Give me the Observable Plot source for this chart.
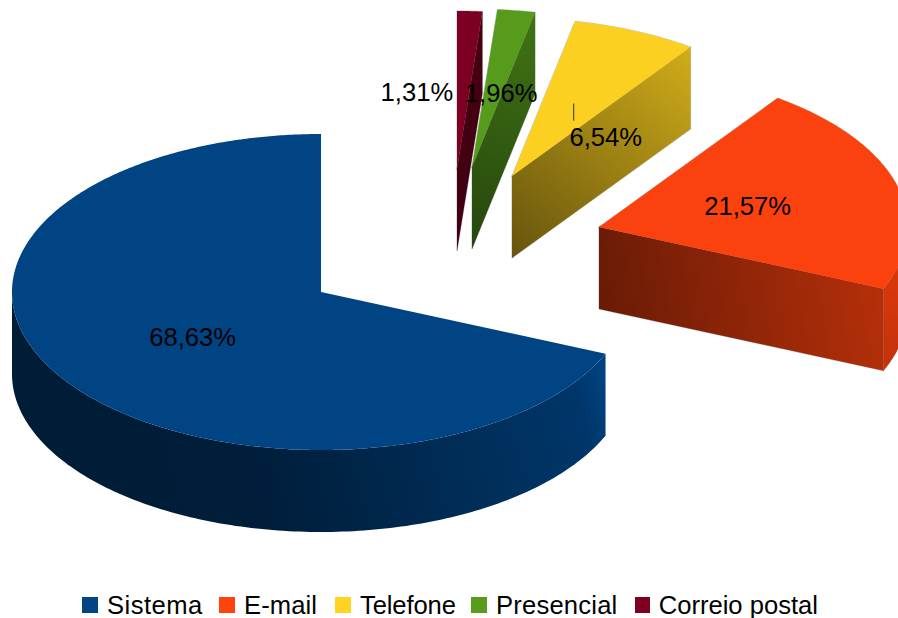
<!DOCTYPE html>
<html>
<head>
<meta charset="utf-8">
<script src="https://cdn.jsdelivr.net/npm/d3@7"></script>
<script src="https://cdn.jsdelivr.net/npm/@observablehq/plot@0.6"></script>
<style>
html,body{margin:0;padding:0;background:#fff;overflow:hidden}
#chart svg{display:block}
#legend{display:flex;align-items:center;height:26px;padding-left:82px;font:25.6px/26px "Liberation Sans",sans-serif;color:#000;white-space:nowrap}
#legend span.i{display:flex;align-items:center;flex:none}
#legend span.s{display:inline-block;width:16px;height:16px;margin-right:9px}
</style>
</head>
<body>
<div id="chart"></div>
<div id="legend"></div>
<script>
// Data
const categories = ["Sistema", "E-mail", "Telefone", "Presencial", "Correio postal"];
const shares = [68.63, 21.57, 6.54, 1.96, 1.31];
const colors = ["#004586", "#ff420e", "#ffd320", "#579d1c", "#7e0021"];

// Pie projection
const W = 898, H = 592;
const rx = 309, ry = 158, depth = 82;
const centers = [[320.5, 291.5], [598.5, 226.5], [511.5, 175.5], [471.5, 166.5], [456.5, 168.5]];
const labelNudge = [[0.5, 2], [0, 1], [32, 34], [7, 5], [-46.5, 2.5]];
const legendPitch = [137, 116, 136, 164, 183];
const legendTrack = [0.45, 0.08, -0.12, 0.2, 0];
const total = d3.sum(shares);
const pt = (c, deg, dz = 0) => {
  const a = deg * Math.PI / 180;
  return [c[0] - Math.sin(a) * rx, c[1] - Math.cos(a) * ry + dz];
};
const shade = (col, f) => {
  const c = d3.rgb(col);
  return d3.rgb(c.r * f, c.g * f, c.b * f).formatHex();
};

// Gradients for the side faces: vector in pixels, then stops as [offset, brightness]
const gradients = [
  {id: "side0", col: 0, v: [150, 500, 606, 385], stops: [[0, .42], [.25, .44], [.6, .62], [.93, .78], [1, .95]]},
  {id: "cut1", col: 1, v: [600, 300, 885, 250], stops: [[0, .41], [1, .72]]},
  {id: "side1", col: 1, v: [885, 370, 898, 290], stops: [[0, .76], [1, .84]]},
  {id: "cut2", col: 2, v: [512, 258, 691, 47], stops: [[0, .40], [1, .82]]},
  {id: "cut3", col: 3, v: [472, 251, 535, 12], stops: [[0, .44], [1, .74]]},
  {id: "cut4", col: 4, v: [457, 251, 482, 12], stops: [[0, .5], [1, .56]]}
];
const defsMark = () => {
  const ns = "http://www.w3.org/2000/svg";
  const defs = document.createElementNS(ns, "defs");
  gradients.forEach(g => {
    const lg = document.createElementNS(ns, "linearGradient");
    lg.setAttribute("id", g.id);
    lg.setAttribute("gradientUnits", "userSpaceOnUse");
    ["x1", "y1", "x2", "y2"].forEach((k, i) => lg.setAttribute(k, g.v[i]));
    g.stops.forEach(([o, f]) => {
      const s = document.createElementNS(ns, "stop");
      s.setAttribute("offset", o);
      s.setAttribute("stop-color", shade(colors[g.col], f));
      lg.append(s);
    });
    defs.append(lg);
  });
  return defs;
};

const polys = [];
const addPoly = (id, points, fill, slice) => points.forEach(([x, y]) => polys.push({id, x, y, fill, slice}));
const labels = [];
let acc = 0;
categories.forEach((name, i) => {
  const a0 = acc / total * 360, a1 = (acc + shares[i]) / total * 360;
  acc += shares[i];
  const c = centers[i], col = colors[i];
  if (i > 0) {
    const e = pt(c, a0);
    addPoly(`cut${i}`, [c, e, [e[0], e[1] + depth], [c[0], c[1] + depth], c], `url(#cut${i})`, i);
  }
  const s0 = Math.max(90, a0), s1 = Math.min(270, a1);
  if (s1 > s0) {
    const upper = [], lower = [];
    for (let d = s0; d < s1; d += 1) { upper.push(pt(c, d)); lower.push(pt(c, d, depth)); }
    upper.push(pt(c, s1)); lower.push(pt(c, s1, depth));
    addPoly(`side${i}`, [...upper, ...lower.reverse(), upper[0]], `url(#side${i})`, i);
  }
  const top = [c];
  for (let d = a0; d < a1; d += 0.5) top.push(pt(c, d));
  top.push(pt(c, a1), c);
  addPoly(`top${i}`, top, shade(col, .985), i);

  const mid = (a0 + a1) / 2, rad = mid * Math.PI / 180;
  const ax = c[0] - Math.sin(rad) * rx / 2, ay = c[1] - Math.cos(rad) * ry / 2;
  labels.push({ax, ay, x: ax + labelNudge[i][0], y: ay + labelNudge[i][1],
    text: shares[i].toFixed(2).replace(".", ",") + "%", leader: i === 2});
});

const plot = Plot.plot({
  width: W, height: H, margin: 0,
  style: {background: "#fff"},
  x: {domain: [0, W], range: [0, W], axis: null},
  y: {domain: [0, H], range: [0, H], axis: null},
  color: {type: "identity"},
  marks: [
    defsMark,
    // soft grey rim under the exploded slices; inner edges are covered by the faces drawn next
    Plot.line(polys.filter(d => d.slice > 0), {x: "x", y: "y", z: "id", stroke: "#808080", strokeOpacity: 0.5, strokeWidth: 1, curve: "linear", clip: true}),
    Plot.line(polys, {x: "x", y: "y", z: "id", fill: "fill", stroke: "none", curve: "linear", clip: true}),
    Plot.link(labels.filter(d => d.leader), {x1: "ax", y1: "ay", x2: "ax", y2: d => d.ay + 17, stroke: "#333", strokeWidth: 1}),
    Plot.text(labels, {x: "x", y: "y", text: "text", fontSize: 25.6, fontFamily: "Liberation Sans", fill: "#000", textAnchor: "middle"})
  ]
});
document.getElementById("chart").append(plot);

const legend = document.getElementById("legend");
categories.forEach((name, i) => {
  const item = document.createElement("span"); item.className = "i";
  item.style.width = legendPitch[i] + "px";
  item.style.letterSpacing = legendTrack[i] + "px";
  const sw = document.createElement("span"); sw.className = "s"; sw.style.background = colors[i];
  item.append(sw, document.createTextNode(name));
  legend.append(item);
});
</script>
</body>
</html>
